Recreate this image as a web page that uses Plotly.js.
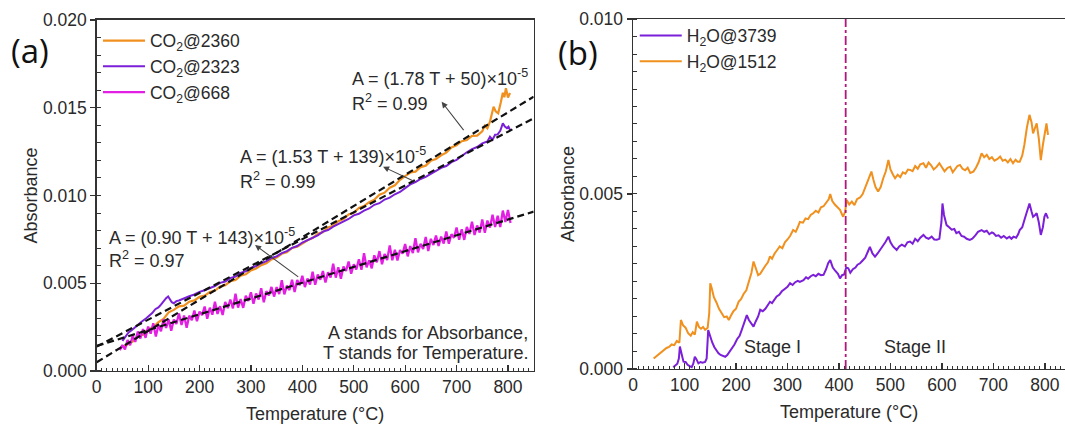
<!DOCTYPE html>
<html><head><meta charset="utf-8">
<script src="https://cdn.plot.ly/plotly-3.0.1.min.js"></script>
<style>html,body{margin:0;padding:0;background:#fff}#chart{width:1065px;height:428px}</style>
</head><body><div id="chart"></div>
<script>
// ---------- Panel (a) data ----------
const t2360 = [50,60,70,80,90,100,110,120,130,140,150,160,170,180,190,200,210,220,230,240,250,260,270,280,290,300,310,320,330,340,350,360,370,380,390,400,410,420,430,440,450,460,470,480,490,500,510,520,530,540,550,560,570,580,590,600,610,620,630,640,650,660,670,680,690,700,710,720,730,740,750,755,760,765,772,776,781,786,790,793,796,800,804];
const a2360 = [0.00135,0.00152,0.00168,0.00197,0.00206,0.00238,0.00249,0.00278,0.00296,0.00334,0.00348,0.00368,0.00372,0.00395,0.00402,0.00423,0.00429,0.00450,0.00458,0.00481,0.00489,0.00511,0.00519,0.00543,0.00551,0.00573,0.00584,0.00603,0.00614,0.00636,0.00646,0.00668,0.00676,0.00701,0.00708,0.00726,0.00745,0.00757,0.00782,0.00791,0.00818,0.00828,0.00854,0.00866,0.00892,0.00901,0.00929,0.00940,0.00962,0.00976,0.01004,0.01016,0.01044,0.01058,0.01089,0.01110,0.01131,0.01136,0.01161,0.01170,0.01198,0.01208,0.01229,0.01244,0.01274,0.01286,0.01309,0.01316,0.01340,0.01341,0.01366,0.01398,0.01383,0.01420,0.01506,0.01480,0.01468,0.01530,0.01585,0.01560,0.01611,0.01558,0.01584];

const t2323 = [50,56,62,68,74,80,86,92,97,103,108,114,120,125,130,135,139,142,146,150,155,160,166,172,180,190,200,210,220,230,240,250,260,270,280,290,300,310,320,330,340,350,360,370,380,390,400,410,420,430,440,450,460,470,480,490,500,510,520,530,540,550,560,570,580,590,600,610,620,630,640,650,660,670,680,690,700,710,720,730,740,750,760,765,770,775,780,785,790,794,798,801,805];
const a2323 = [0.00172,0.00195,0.00220,0.00232,0.00250,0.00262,0.00278,0.00290,0.00302,0.00318,0.00330,0.00352,0.00362,0.00378,0.00398,0.00415,0.00425,0.00408,0.00392,0.00386,0.00398,0.00402,0.00410,0.00414,0.00426,0.00436,0.00451,0.00460,0.00472,0.00484,0.00502,0.00510,0.00529,0.00538,0.00559,0.00568,0.00587,0.00598,0.00614,0.00626,0.00644,0.00653,0.00672,0.00683,0.00702,0.00712,0.00732,0.00746,0.00762,0.00773,0.00794,0.00803,0.00822,0.00836,0.00854,0.00866,0.00887,0.00896,0.00914,0.00926,0.00947,0.00956,0.00977,0.00988,0.01007,0.01020,0.01042,0.01063,0.01076,0.01094,0.01106,0.01124,0.01138,0.01157,0.01168,0.01190,0.01203,0.01227,0.01246,0.01264,0.01276,0.01297,0.01308,0.01335,0.01318,0.01346,0.01348,0.01368,0.01411,0.01393,0.01384,0.01392,0.01368];

const t668 = [45,50,55,60,65,70,75,80,85,90,95,100,105,110,115,120,125,130,135,140,145,150,155,160,165,170,175,180,185,190,195,200,205,210,215,220,225,230,235,240,245,250,255,260,265,270,275,280,285,290,295,300,305,310,315,320,325,330,335,340,345,350,355,360,365,370,375,380,385,390,395,400,405,410,415,420,425,430,435,440,445,450,455,460,465,470,475,480,485,490,495,500,505,510,515,520,525,530,535,540,545,550,555,560,565,570,575,580,585,590,595,600,605,610,615,620,625,630,635,640,645,650,655,660,665,670,675,680,685,690,695,700,705,710,715,720,725,730,735,740,745,750,755,760,765,770,775,780,785,790,795,800,805];
const a668 = [0.00119,0.00148,0.00123,0.00177,0.00147,0.00201,0.00166,0.00225,0.00185,0.00239,0.00189,0.00253,0.00213,0.00272,0.00197,0.00261,0.00226,0.00295,0.00245,0.00294,0.00229,0.00293,0.00268,0.00327,0.00262,0.00316,0.00246,0.00315,0.00290,0.00344,0.00284,0.00338,0.00318,0.00367,0.00297,0.00361,0.00321,0.00395,0.00325,0.00369,0.00319,0.00393,0.00358,0.00407,0.00357,0.00441,0.00361,0.00410,0.00360,0.00429,0.00399,0.00448,0.00383,0.00442,0.00407,0.00471,0.00391,0.00455,0.00430,0.00479,0.00424,0.00478,0.00438,0.00517,0.00437,0.00486,0.00461,0.00520,0.00450,0.00519,0.00489,0.00543,0.00478,0.00527,0.00492,0.00566,0.00491,0.00550,0.00520,0.00569,0.00504,0.00563,0.00533,0.00612,0.00532,0.00591,0.00526,0.00595,0.00570,0.00624,0.00554,0.00608,0.00578,0.00637,0.00577,0.00671,0.00591,0.00630,0.00585,0.00659,0.00619,0.00683,0.00608,0.00667,0.00632,0.00716,0.00631,0.00690,0.00630,0.00689,0.00669,0.00723,0.00653,0.00712,0.00672,0.00756,0.00676,0.00725,0.00695,0.00764,0.00684,0.00753,0.00718,0.00772,0.00712,0.00766,0.00726,0.00795,0.00725,0.00779,0.00759,0.00818,0.00748,0.00807,0.00747,0.00821,0.00781,0.00850,0.00775,0.00829,0.00789,0.00863,0.00788,0.00857,0.00817,0.00891,0.00821,0.00885,0.00820,0.00914,0.00849,0.00918,0.00843];

// Fitted lines (end points, from the printed fit equations)
const fitT = [0, 850];
const fit2360 = [0.00050, 0.01563];
const fit2323 = [0.00139, 0.01440];
const fit668  = [0.00143, 0.00908];

// ---------- Panel (b) data ----------
const t1512 = [40,45,50,55,60,65,70,75,80,85,90,93,97,102,107,112,116,120,124,128,132,136,140,145,148,150,153,157,162,167,172,177,182,186,190,195,200,205,210,215,220,225,230,234,238,243,247,252,257,262,266,270,275,280,285,290,295,300,305,311,316,320,324,330,335,340,345,350,355,360,365,370,375,380,383,387,392,397,402,408,412,415,420,425,430,435,441,446,451,456,460,463,467,471,476,481,486,491,496,500,505,509,514,519,524,529,534,538,543,548,553,558,564,569,574,579,584,590,595,600,605,611,616,621,626,630,635,640,645,650,655,661,666,671,677,682,687,692,697,702,708,713,718,723,728,733,738,743,747,751,756,760,765,770,774,777,781,784,788,792,796,800,803,806];
const a1512 = [0.00030,0.00036,0.00040,0.00047,0.00052,0.00060,0.00063,0.00070,0.00068,0.00080,0.00075,0.00140,0.00125,0.00118,0.00102,0.00095,0.00105,0.00098,0.00135,0.00120,0.00115,0.00120,0.00112,0.00118,0.00160,0.00245,0.00230,0.00205,0.00190,0.00172,0.00160,0.00148,0.00150,0.00140,0.00152,0.00165,0.00172,0.00192,0.00200,0.00215,0.00225,0.00250,0.00275,0.00307,0.00290,0.00268,0.00272,0.00285,0.00295,0.00305,0.00322,0.00315,0.00330,0.00340,0.00350,0.00345,0.00362,0.00370,0.00380,0.00397,0.00392,0.00405,0.00420,0.00418,0.00430,0.00428,0.00440,0.00445,0.00452,0.00447,0.00462,0.00465,0.00475,0.00485,0.00500,0.00480,0.00470,0.00462,0.00455,0.00435,0.00450,0.00483,0.00470,0.00478,0.00468,0.00485,0.00490,0.00500,0.00520,0.00538,0.00555,0.00564,0.00540,0.00520,0.00507,0.00520,0.00545,0.00565,0.00597,0.00570,0.00555,0.00545,0.00555,0.00548,0.00562,0.00558,0.00570,0.00569,0.00565,0.00580,0.00572,0.00585,0.00588,0.00575,0.00590,0.00582,0.00570,0.00578,0.00588,0.00575,0.00565,0.00575,0.00578,0.00562,0.00572,0.00580,0.00583,0.00572,0.00568,0.00575,0.00560,0.00564,0.00575,0.00590,0.00616,0.00605,0.00612,0.00600,0.00605,0.00595,0.00600,0.00607,0.00595,0.00598,0.00590,0.00600,0.00588,0.00598,0.00592,0.00592,0.00610,0.00640,0.00690,0.00726,0.00705,0.00673,0.00690,0.00702,0.00660,0.00597,0.00640,0.00680,0.00702,0.00669];

const t3739 = [78,82,86,89,91,94,98,102,106,110,114,117,120,123,127,131,135,140,143,146,150,154,158,162,166,170,175,179,183,188,192,197,202,207,211,216,221,225,230,234,238,243,247,252,257,262,266,270,275,279,284,289,294,300,305,310,315,320,324,331,336,340,345,350,355,360,365,370,375,379,383,388,393,398,402,406,410,414,418,422,427,432,436,441,446,451,456,460,465,470,475,480,485,490,496,500,505,512,517,522,528,533,538,543,548,553,558,564,569,574,580,585,590,595,599,601,604,609,614,619,624,628,633,638,643,648,654,659,664,670,677,682,687,692,697,700,705,710,715,720,726,731,735,739,744,748,751,756,761,766,770,774,777,781,784,788,792,796,799,802,806];
const a3739 = [0.00005,0.00010,0.00015,0.00030,0.00064,0.00045,0.00021,0.00020,0.00012,0.00008,0.00005,0.00015,0.00035,0.00028,0.00016,0.00020,0.00018,0.00020,0.00030,0.00111,0.00092,0.00075,0.00062,0.00052,0.00045,0.00040,0.00038,0.00035,0.00040,0.00050,0.00058,0.00070,0.00085,0.00095,0.00111,0.00130,0.00154,0.00140,0.00128,0.00121,0.00135,0.00150,0.00169,0.00165,0.00172,0.00182,0.00192,0.00188,0.00200,0.00207,0.00212,0.00222,0.00228,0.00235,0.00245,0.00240,0.00248,0.00252,0.00249,0.00254,0.00262,0.00258,0.00265,0.00269,0.00265,0.00272,0.00268,0.00269,0.00285,0.00302,0.00311,0.00290,0.00280,0.00272,0.00259,0.00268,0.00270,0.00290,0.00288,0.00275,0.00285,0.00290,0.00298,0.00302,0.00310,0.00318,0.00335,0.00349,0.00330,0.00321,0.00330,0.00340,0.00350,0.00362,0.00378,0.00362,0.00350,0.00340,0.00350,0.00355,0.00350,0.00362,0.00364,0.00358,0.00372,0.00365,0.00375,0.00383,0.00375,0.00372,0.00378,0.00370,0.00369,0.00372,0.00420,0.00473,0.00440,0.00411,0.00405,0.00398,0.00400,0.00388,0.00392,0.00380,0.00378,0.00372,0.00369,0.00372,0.00380,0.00392,0.00397,0.00392,0.00395,0.00385,0.00390,0.00388,0.00380,0.00382,0.00375,0.00380,0.00373,0.00378,0.00372,0.00378,0.00375,0.00385,0.00397,0.00405,0.00430,0.00455,0.00473,0.00450,0.00435,0.00440,0.00445,0.00420,0.00383,0.00405,0.00435,0.00445,0.00430];

const stageBoundaryT = [413, 413];
const stageBoundaryA = [0, 0.010];

// ---------- styling ----------
const C_OR = '#f0901e', C_PU = '#7b1fd8', C_MA = '#e41fe4';
const FONT = 'Liberation Sans, Arial, sans-serif';
const TXT = '#2a2a2a';

const traces = [
  {x:t2360, y:a2360, type:'scatter', mode:'lines', name:'CO<sub>2</sub>@2360', line:{color:C_OR, width:2.2}, xaxis:'x', yaxis:'y', legend:'legend'},
  {x:t2323, y:a2323, type:'scatter', mode:'lines', name:'CO<sub>2</sub>@2323', line:{color:C_PU, width:2}, xaxis:'x', yaxis:'y', legend:'legend'},
  {x:t668, y:a668, type:'scatter', mode:'lines', name:'CO<sub>2</sub>@668', line:{color:C_MA, width:2.3}, xaxis:'x', yaxis:'y', legend:'legend'},
  {x:fitT, y:fit2360, type:'scatter', mode:'lines', showlegend:false, line:{color:'#111', width:2.2, dash:'7px,4px'}, xaxis:'x', yaxis:'y', hoverinfo:'skip'},
  {x:fitT, y:fit2323, type:'scatter', mode:'lines', showlegend:false, line:{color:'#111', width:2.2, dash:'7px,4px'}, xaxis:'x', yaxis:'y', hoverinfo:'skip'},
  {x:fitT, y:fit668, type:'scatter', mode:'lines', showlegend:false, line:{color:'#111', width:2.2, dash:'7px,4px'}, xaxis:'x', yaxis:'y', hoverinfo:'skip'},
  {x:t3739, y:a3739, type:'scatter', mode:'lines', name:'H<sub>2</sub>O@3739', line:{color:C_PU, width:2}, xaxis:'x2', yaxis:'y2', legend:'legend2'},
  {x:t1512, y:a1512, type:'scatter', mode:'lines', name:'H<sub>2</sub>O@1512', line:{color:C_OR, width:2}, xaxis:'x2', yaxis:'y2', legend:'legend2'},
  {x:stageBoundaryT, y:stageBoundaryA, type:'scatter', mode:'lines', showlegend:false, line:{color:'#b0177a', width:1.8, dash:'dashdot'}, xaxis:'x2', yaxis:'y2', hoverinfo:'skip'}
];

function xAx(domain, range, anchor){
  return {domain:domain, range:range, anchor:anchor, showline:true, linecolor:'#333', linewidth:1.5, mirror:true,
    ticks:'inside', ticklen:6, tickwidth:1.2, tickcolor:'#333', dtick:100, tick0:0,
    minor:{dtick:10, ticks:'inside', ticklen:3, tickcolor:'#333', tickwidth:1},
    showgrid:false, zeroline:false, tickfont:{family:FONT, size:17.5, color:TXT},
    title:{text:'Temperature (°C)', font:{family:FONT, size:18, color:TXT}, standoff:11}};
}
function yAx(domain, range, anchor, minorStep, mirror){
  return {domain:domain, range:range, anchor:anchor, showline:true, linecolor:'#333', linewidth:1.5, mirror:mirror,
    ticks:'outside', ticklen:5, tickwidth:1.2, tickcolor:'#333', dtick:0.005, tick0:0, tickformat:'.3f',
    minor:{dtick:minorStep, ticks:'inside', ticklen:4, tickcolor:'#333', tickwidth:1},
    showgrid:false, zeroline:false, tickfont:{family:FONT, size:17.5, color:TXT},
    title:{text:'Absorbance', font:{family:FONT, size:18, color:TXT}, standoff:0}};
}

const annFont = {family:FONT, size:18, color:TXT};
function txt(x, y, ref, s, xa){ return {x:x, y:y, xref:ref[0], yref:ref[1], text:s, showarrow:false, xanchor:xa||'left', yanchor:'middle', font:annFont}; }
function arr(x, y, ax, ay){ return {x:x, y:y, ax:ax, ay:ay, xref:'x', yref:'y', axref:'x', ayref:'y', text:'', showarrow:true, arrowhead:2, arrowsize:1.1, arrowwidth:1.1, arrowcolor:'#444'}; }

const layout = {
  width:1065, height:428, margin:{l:0, r:0, t:0, b:0}, paper_bgcolor:'#fff', plot_bgcolor:'#fff',
  showlegend:true,
  xaxis: xAx([0.0908, 0.5011], [0, 850], 'y'),
  yaxis: yAx([0.1332, 0.9533], [0, 0.020], 'x', 0.001, true),
  xaxis2: xAx([0.5944, 1.0], [0, 839], 'y2'),
  yaxis2: yAx([0.1379, 0.9556], [0, 0.010], 'x2', 0.0005, false),
  legend: {x:0.092, y:0.947, xanchor:'left', yanchor:'top', bgcolor:'rgba(0,0,0,0)', font:{family:FONT, size:17.5, color:TXT}, tracegroupgap:0, itemwidth:42},
  legend2: {x:0.596, y:0.959, xanchor:'left', yanchor:'top', bgcolor:'rgba(0,0,0,0)', font:{family:FONT, size:17.5, color:TXT}, tracegroupgap:0, itemwidth:42},
  annotations: [
    txt(492, 0.0167, ['x','y'], 'A = (1.78 T + 50)×10<sup>-5</sup>'),
    txt(492, 0.01527, ['x','y'], 'R<sup>2</sup> = 0.99'),
    txt(275, 0.01230, ['x','y'], 'A = (1.53 T + 139)×10<sup>-5</sup>'),
    txt(275, 0.01088, ['x','y'], 'R<sup>2</sup> = 0.99'),
    txt(20, 0.00764, ['x','y'], 'A = (0.90 T + 143)×10<sup>-5</sup>'),
    txt(20, 0.00633, ['x','y'], 'R<sup>2</sup> = 0.97'),
    txt(843, 0.00217, ['x','y'], 'A stands for Absorbance,', 'right'),
    txt(843, 0.00103, ['x','y'], 'T stands for Temperature.', 'right'),
    arr(671, 0.01534, 716, 0.01364),
    arr(557, 0.01164, 619, 0.01079),
    arr(308, 0.00718, 395, 0.00530),
    txt(270, 0.00063, ['x2','y2'], 'Stage I', 'center'),
    txt(547, 0.00063, ['x2','y2'], 'Stage II', 'center'),
    {x:30/1065, y:1-51/428, xref:'paper', yref:'paper', text:'(a)', showarrow:false, xanchor:'center', yanchor:'middle', font:{family:'Open Sans, sans-serif', size:33, color:'#111'}},
    {x:578/1065, y:1-52/428, xref:'paper', yref:'paper', text:'(b)', showarrow:false, xanchor:'center', yanchor:'middle', font:{family:'Open Sans, sans-serif', size:33, color:'#111'}}
  ]
};

Plotly.newPlot('chart', traces, layout, {displayModeBar:false, staticPlot:true});
</script></body></html>
